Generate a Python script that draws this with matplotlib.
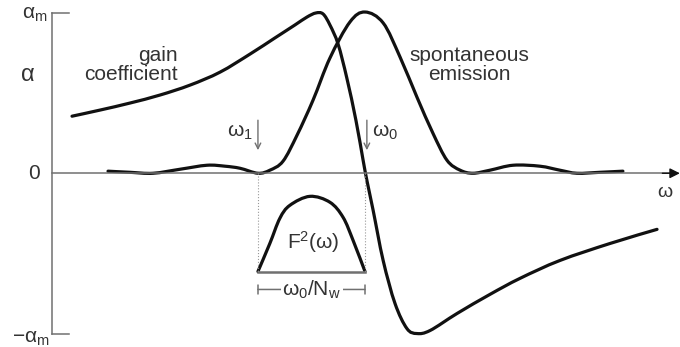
import numpy as np
import matplotlib.pyplot as plt
from matplotlib.path import Path
from matplotlib.patches import PathPatch

plt.rcParams['font.family'] = ['Liberation Sans', 'DejaVu Sans']
plt.rcParams['mathtext.fontset'] = 'custom'
plt.rcParams['mathtext.rm'] = 'Liberation Sans'
plt.rcParams['mathtext.it'] = 'Liberation Sans'

# frequency in units of w0, alpha in units of alpha_m
w1 = 0.658
w0 = 1.0

gain_w = [0.064, 0.153, 0.249, 0.345, 0.441, 0.537, 0.633, 0.712, 0.776, 0.815,
          0.843, 0.866, 0.888, 0.914, 0.942, 0.971, 0.994, 1.006, 1.026, 1.058,
          1.096, 1.134, 1.166, 1.208, 1.294, 1.399, 1.495, 1.623, 1.783, 1.933]
gain_a = [0.356, 0.394, 0.438, 0.488, 0.550, 0.631, 0.744, 0.844, 0.925, 0.975,
          1.000, 0.994, 0.925, 0.806, 0.594, 0.331, 0.081, -0.044, -0.231, -0.544,
          -0.813, -0.969, -1.000, -0.981, -0.875, -0.756, -0.656, -0.544, -0.438,
          -0.350]

spont_w = [0.179, 0.249, 0.323, 0.409, 0.495, 0.553, 0.601, 0.658, 0.696, 0.738,
           0.783, 0.834, 0.888, 0.952, 1.000, 1.058, 1.112, 1.166, 1.217, 1.262,
           1.304, 1.345, 1.399, 1.473, 1.559, 1.623, 1.677, 1.751, 1.824]
spont_a = [0.013, 0.006, 0.000, 0.025, 0.050, 0.044, 0.031, 0.000, 0.019, 0.075,
           0.238, 0.456, 0.719, 0.944, 1.006, 0.938, 0.725, 0.475, 0.250, 0.081,
           0.019, 0.000, 0.019, 0.050, 0.044, 0.019, 0.000, 0.006, 0.013]

# filter function F^2 sketched below the axis
f2_w = [0.658, 0.696, 0.728, 0.760, 0.824, 0.888, 0.930, 0.962, 1.000]
f2_a = [-0.613, -0.438, -0.281, -0.200, -0.144, -0.181, -0.275, -0.419, -0.613]
f2_base = -0.613
dim_y = -0.725


def smooth_path(xs, ys):
    # Catmull-Rom through the points, written as cubic Bezier segments
    p = np.column_stack([xs, ys])
    p = np.vstack([p[0], p, p[-1]])
    verts = [p[1]]
    codes = [Path.MOVETO]
    for i in range(1, len(p) - 2):
        c1 = p[i] + (p[i + 1] - p[i - 1]) / 6
        c2 = p[i + 1] - (p[i + 2] - p[i]) / 6
        verts += [c1, c2, p[i + 1]]
        codes += [Path.CURVE4] * 3
    return Path(verts, codes)


fig = plt.figure(figsize=(6.8, 3.47), dpi=100)
ax = fig.add_axes([0, 0, 1, 1])
ax.set_xlim(-0.1661, 2.0064)
ax.set_ylim(-1.084, 1.081)
ax.axis('off')

txt = '#333333'
axc = '#707070'
fs = 15

# axes
ax.plot([0, 0], [-1.006, 1.0], color=axc, lw=1.1)
ax.plot([0, 0.054], [1.0, 1.0], color=axc, lw=1.1)
ax.plot([0, 0.054], [-1.006, -1.006], color=axc, lw=1.1)
ax.plot([0, 1.98], [0, 0], color=axc, lw=1.1)
ax.annotate('', xy=(2.006, 0), xytext=(1.95, 0),
            arrowprops=dict(arrowstyle='-|>,head_length=0.6,head_width=0.3',
                            color='#111111', lw=1.0, shrinkA=0, shrinkB=0))

# curves
for xs, ys in [(gain_w, gain_a), (spont_w, spont_a), (f2_w, f2_a)]:
    ax.add_patch(PathPatch(smooth_path(xs, ys), fill=False, ec='#111111',
                           lw=2.3, capstyle='round'))
ax.plot([w1, w0], [f2_base, f2_base], color=axc, lw=1.8)
ax.plot([w1, w1], [0, f2_base], color='#999999', lw=0.8, ls=':')
ax.plot([w0, w0], [0, f2_base], color='#999999', lw=0.8, ls=':')

# width of F^2
ax.annotate('', xy=(w0, dim_y), xytext=(w1, dim_y),
            arrowprops=dict(arrowstyle='|-|,widthA=0.3,widthB=0.3',
                            color=axc, lw=1.1, shrinkA=0, shrinkB=0))
ax.text(0.830, dim_y, r'$\mathrm{ω_0/N_w}$', fontsize=fs, color=txt,
        ha='center', va='center',
        bbox=dict(fc='white', ec='none', pad=1))
ax.text(0.834, -0.431, r'$\mathrm{F^2(ω)}$', fontsize=fs, color=txt,
        ha='center', va='center')

# frequency markers
for w in (w1, 1.006):
    ax.annotate('', xy=(w, 0.144), xytext=(w, 0.331),
                arrowprops=dict(arrowstyle='->,head_length=0.4,head_width=0.2',
                                color=axc, lw=1.0, shrinkA=0, shrinkB=0))
ax.text(0.642, 0.256, r'$\mathrm{ω_1}$', fontsize=fs, color=txt,
        ha='right', va='center')
ax.text(1.022, 0.256, r'$\mathrm{ω_0}$', fontsize=fs, color=txt,
        ha='left', va='center')

# labels
ax.text(-0.013, 0.99, r'$\mathrm{α_m}$', fontsize=fs, color=txt,
        ha='right', va='center')
ax.text(-0.077, 0.6125, 'α', fontsize=fs + 2, color=txt,
        ha='center', va='center')
ax.text(-0.058, 0.0, '0', fontsize=fs, color=txt, ha='center', va='center')
ax.text(-0.006, -1.03, r'$\mathrm{-α_m}$', fontsize=fs, color=txt,
        ha='right', va='center')
ax.text(1.958, -0.119, 'ω', fontsize=fs - 1, color=txt,
        ha='center', va='center')
ax.text(0.403, 0.675, 'gain\ncoefficient', fontsize=fs, color=txt,
        ha='right', va='center', multialignment='right', linespacing=1.05)
ax.text(1.335, 0.675, 'spontaneous\nemission', fontsize=fs, color=txt,
        ha='center', va='center', multialignment='center', linespacing=1.05)

fig.savefig('out.png', dpi=100)
